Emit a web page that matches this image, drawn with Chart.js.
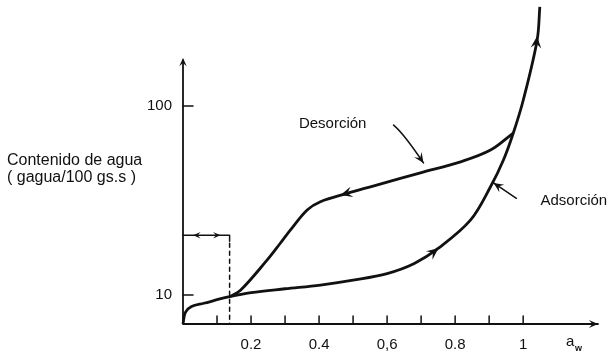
<!DOCTYPE html>
<html>
<head>
<meta charset="utf-8">
<script src="https://cdn.jsdelivr.net/npm/chart.js@4"></script>
<style>
  html, body { margin: 0; padding: 0; background: #fff; }
</style>
</head>
<body>
<canvas id="isoterma" width="613" height="353"></canvas>
<script>
// Isoterma de sorción: aw vs contenido de agua (escala log)
const adsX = [0, 0.007, 0.025, 0.061, 0.137, 0.2, 0.3, 0.404, 0.5, 0.6, 0.68, 0.751, 0.845, 0.904, 0.942, 0.971, 1.0, 1.041, 1.049];
const adsY = [7.03, 8.1, 8.7, 9.05, 9.8, 10.3, 10.8, 11.3, 12.0, 13.0, 14.7, 17.7, 24.9, 37.4, 51.8, 72, 107, 223, 335];

const desX = [0.137, 0.169, 0.247, 0.286, 0.316, 0.365, 0.404, 0.482, 0.551, 0.639, 0.698, 0.816, 0.904, 0.971];
const desY = [9.8, 10.6, 15.3, 18.8, 22.1, 28.2, 31.2, 34.5, 37.4, 41.4, 44.3, 50.7, 58.5, 72];

const xTicks = [0.2, 0.4, 0.6, 0.8, 1];
const xLabels = ['0.2', '0.4', '0,6', '0.8', '1'];
const xMinor = [0.1, 0.3, 0.5, 0.7, 0.9];
const yTicks = [10, 100];
const yLabels = ['10', '100'];

const yTitle = ['Contenido de agua', '( gagua/100 gs.s )'];
const monoLayer = 0.137;   // aw limite de la monocapa
const monoValue = 20.7;
const yAxisTop = 175;

const ink = '#111';
const font = 'Liberation Sans, Arial, sans-serif';

function toPoints(xs, ys) {
  return xs.map((x, i) => ({ x: x, y: ys[i] }));
}

function head(ctx, x, y, ang, len) {
  const s = 0.42;
  ctx.beginPath();
  ctx.moveTo(x, y);
  ctx.lineTo(x - len * Math.cos(ang - s), y - len * Math.sin(ang - s));
  ctx.lineTo(x - len * 0.55 * Math.cos(ang), y - len * 0.55 * Math.sin(ang));
  ctx.lineTo(x - len * Math.cos(ang + s), y - len * Math.sin(ang + s));
  ctx.closePath();
  ctx.fill();
}

// flechas sobre las curvas: [tip, tail] en unidades de datos
const curveArrows = [
  [[0.463, 33.8], [0.50, 35.3]],
  [[0.751, 17.7], [0.72, 16.0]],
  [[1.041, 234], [1.036, 190]]
];

const scanPlugin = {
  id: 'scan',
  afterDatasetsDraw(chart) {
    const { ctx, chartArea: a, scales: { x, y } } = chart;
    const px = v => x.getPixelForValue(v);
    const py = v => y.getPixelForValue(v);
    ctx.save();
    ctx.strokeStyle = ink;
    ctx.fillStyle = ink;
    ctx.lineCap = 'round';

    // ejes
    ctx.lineWidth = 1.8;
    ctx.beginPath();
    ctx.moveTo(a.left, a.bottom);
    ctx.lineTo(a.left, py(yAxisTop));
    ctx.moveTo(a.left, a.bottom);
    ctx.lineTo(a.right, a.bottom);
    ctx.stroke();
    head(ctx, a.left, py(yAxisTop) - 2, -Math.PI / 2, 9);
    head(ctx, a.right, a.bottom, 0, 10);

    // marcas
    ctx.lineWidth = 1.5;
    ctx.beginPath();
    xTicks.concat(xMinor).forEach(v => {
      ctx.moveTo(px(v), a.bottom);
      ctx.lineTo(px(v), a.bottom - 8);
    });
    yTicks.forEach(v => {
      ctx.moveTo(a.left, py(v));
      ctx.lineTo(a.left + 10, py(v));
    });
    ctx.stroke();

    // monocapa
    ctx.beginPath();
    ctx.moveTo(a.left, py(monoValue));
    ctx.lineTo(px(monoLayer), py(monoValue));
    ctx.moveTo(px(monoLayer), py(monoValue));
    ctx.lineTo(px(monoLayer), py(monoValue) + 6);
    ctx.stroke();
    ctx.setLineDash([4, 4]);
    ctx.beginPath();
    ctx.moveTo(px(monoLayer), py(monoValue) + 8);
    ctx.lineTo(px(monoLayer), a.bottom);
    ctx.stroke();
    ctx.setLineDash([]);
    head(ctx, px(0.03), py(monoValue), Math.PI, 8);
    head(ctx, px(0.11), py(monoValue), 0, 8);

    // flechas de recorrido
    curveArrows.forEach(([tip, tail]) => {
      const tx = px(tip[0]), ty = py(tip[1]);
      const ang = Math.atan2(ty - py(tail[1]), tx - px(tail[0]));
      head(ctx, tx, ty, ang, 13);
    });

    // indicador Desorción
    ctx.lineWidth = 1.5;
    let sx = px(0.619), sy = py(79.3), bx = px(0.648), by = py(71.9), ex = px(0.707), ey = py(50);
    ctx.beginPath();
    ctx.moveTo(sx, sy);
    ctx.quadraticCurveTo(bx, by, ex, ey);
    ctx.stroke();
    head(ctx, ex, ey, Math.atan2(ey - by, ex - bx), 11);

    // indicador Adsorción
    sx = px(0.98); sy = py(32.5); ex = px(0.913); ey = py(39.2);
    ctx.beginPath();
    ctx.moveTo(sx, sy);
    ctx.lineTo(ex, ey);
    ctx.stroke();
    head(ctx, ex, ey, Math.atan2(ey - sy, ex - sx), 11);

    // textos
    ctx.font = '15px ' + font;
    ctx.textBaseline = 'middle';
    ctx.textAlign = 'center';
    ctx.fillText('Desorción', px(0.44), py(80.4));
    ctx.textAlign = 'left';
    ctx.fillText('Adsorción', px(1.051), py(31.4));
    ctx.font = '16px ' + font;
    ctx.fillText(yTitle[0], 7, 161);
    ctx.fillText(yTitle[1], 7, 178);

    ctx.font = '15px ' + font;
    ctx.fillText('a', a.right - 32, 342);
    ctx.font = 'bold 9px ' + font;
    ctx.fillText('w', a.right - 23, 349);
    ctx.restore();
  }
};

new Chart(document.getElementById('isoterma'), {
  type: 'scatter',
  data: {
    datasets: [
      {
        label: 'Adsorción',
        data: toPoints(adsX, adsY),
        showLine: true,
        borderColor: ink,
        borderWidth: 2.8,
        pointRadius: 0,
        tension: 0.35,
        fill: false,
        clip: false
      },
      {
        label: 'Desorción',
        data: toPoints(desX, desY),
        showLine: true,
        borderColor: ink,
        borderWidth: 2.8,
        pointRadius: 0,
        tension: 0.35,
        fill: false,
        clip: false
      }
    ]
  },
  options: {
    responsive: false,
    animation: false,
    layout: { padding: { top: 0, right: 15, left: 0, bottom: 0 } },
    plugins: { legend: { display: false }, tooltip: { enabled: false } },
    scales: {
      x: {
        type: 'linear',
        min: 0,
        max: 1.22,
        grid: { display: false, drawTicks: false },
        border: { display: false },
        afterBuildTicks: s => { s.ticks = xTicks.map(v => ({ value: v })); },
        afterFit: s => { s.height = 29; s.paddingLeft = 0; s.paddingRight = 0; },
        ticks: {
          callback: v => xLabels[xTicks.indexOf(v)],
          font: { family: font, size: 15 },
          color: ink,
          padding: 12,
          maxRotation: 0,
          autoSkip: false
        }
      },
      y: {
        type: 'logarithmic',
        min: 7.03,
        max: 364,
        grid: { display: false, drawTicks: false },
        border: { display: false },
        afterBuildTicks: s => { s.ticks = yTicks.map(v => ({ value: v })); },
        afterFit: s => { s.width = 183; s.paddingTop = 0; s.paddingBottom = 0; },
        ticks: {
          callback: v => yLabels[yTicks.indexOf(v)],
          font: { family: font, size: 15 },
          color: ink,
          padding: 11,
          autoSkip: false
        }
      }
    }
  },
  plugins: [scanPlugin]
});
</script>
</body>
</html>
